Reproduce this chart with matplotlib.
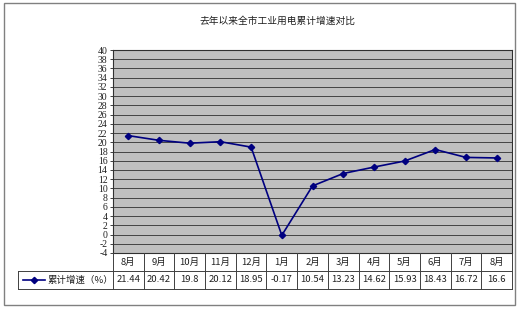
import matplotlib
matplotlib.use('Agg')
import matplotlib.pyplot as plt
from matplotlib import transforms
from matplotlib.lines import Line2D
from matplotlib.patches import Rectangle

plt.rcParams['font.family'] = ['Noto Sans CJK SC', 'DejaVu Sans']

title = '去年以来全市工业用电累计增速对比'
series_name = '累计增速（%）'
months = ['8月', '9月', '10月', '11月', '12月', '1月', '2月', '3月', '4月', '5月', '6月', '7月', '8月']
values = [21.44, 20.42, 19.8, 20.12, 18.95, -0.17, 10.54, 13.23, 14.62, 15.93, 18.43, 16.72, 16.6]
value_labels = ['21.44', '20.42', '19.8', '20.12', '18.95', '-0.17', '10.54', '13.23', '14.62', '15.93', '18.43', '16.72', '16.6']
yticks = list(range(-4, 41, 2))

W, H = 517, 309
fig = plt.figure(figsize=(W / 100, H / 100), dpi=100)
fig.patch.set_facecolor('white')

def fx(px):
    return px / W

def fy(py):
    return 1 - py / H

# outer frame
fig.patches.append(Rectangle((fx(4), fy(305)), fx(515) - fx(4), fy(3) - fy(305),
                             transform=fig.transFigure, fill=False, edgecolor='#808080', lw=1.0))

ax = fig.add_axes([fx(113), fy(253), fx(512) - fx(113), fy(50) - fy(253)])
ax.set_facecolor('#c0c0c0')
xs = list(range(len(months)))
ax.plot(xs, values, color='#000080', marker='D', markersize=3.2, lw=1.2, zorder=3)
ax.set_xlim(-0.5, len(months) - 0.5)
ax.set_ylim(-4, 40)
ax.set_yticks(yticks)
ax.set_yticklabels([str(t) for t in yticks], family=['Liberation Serif', 'DejaVu Serif'])
ax.yaxis.grid(True, color='#303030', lw=0.6)
ax.set_axisbelow(True)
ax.set_xticks([])
ax.tick_params(axis='y', labelsize=7, length=2, width=0.6, pad=2, colors='#202020')
for s in ax.spines.values():
    s.set_color('#303030')
    s.set_linewidth(0.8)

fig.text(fx(277), fy(21), title, ha='center', va='center', fontsize=7, color='#202020')

# table below the plot
bt = transforms.blended_transform_factory(ax.transData, fig.transFigure)
lc = '#404040'
y_top, y_mid, y_bot = 253, 271, 289
for i in range(len(months) + 1):
    xb = i - 0.5
    fig.lines.append(Line2D([xb, xb], [fy(y_top), fy(y_bot)], transform=bt, color=lc, lw=0.7))
fig.lines.append(Line2D([fx(18), fx(512)], [fy(y_mid), fy(y_mid)], transform=fig.transFigure, color=lc, lw=0.7))
fig.lines.append(Line2D([fx(18), fx(512)], [fy(y_bot), fy(y_bot)], transform=fig.transFigure, color=lc, lw=0.7))
fig.lines.append(Line2D([fx(18), fx(18)], [fy(y_mid), fy(y_bot)], transform=fig.transFigure, color=lc, lw=0.7))

for i, (m, v) in enumerate(zip(months, value_labels)):
    fig.text(i, fy((y_top + y_mid) / 2), m, transform=bt, ha='center', va='center', fontsize=6.8, color='#202020')
    fig.text(i, fy((y_mid + y_bot) / 2), v, transform=bt, ha='center', va='center', fontsize=6.8, color='#202020')

# legend key
yl = fy((y_mid + y_bot) / 2)
fig.lines.append(Line2D([fx(23), fx(45)], [yl, yl], transform=fig.transFigure, color='#000080', lw=1.2))
fig.lines.append(Line2D([fx(34)], [yl], transform=fig.transFigure, color='#000080', marker='D', markersize=3.2, lw=0))
fig.text(fx(48), yl, series_name, ha='left', va='center', fontsize=6.8, color='#202020')

fig.savefig('out.png', dpi=100)
